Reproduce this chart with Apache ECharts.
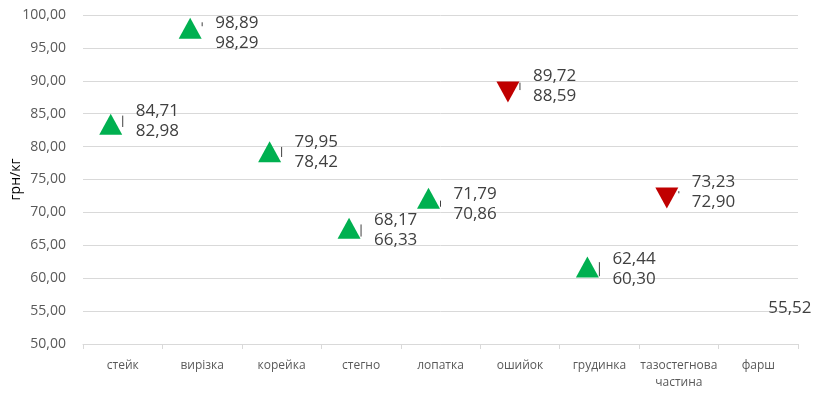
<!DOCTYPE html>
<html>
<head>
<meta charset="utf-8">
<script src="https://cdn.jsdelivr.net/npm/echarts@6/dist/echarts.min.js"></script>
<style>
html,body{margin:0;padding:0;background:#fff;}
#chart{width:818px;height:399px;}
</style>
</head>
<body>
<div id="chart"></div>
<script>
// ---- data ----
var categories = ['стейк', 'вирізка', 'корейка', 'стегно', 'лопатка', 'ошийок', 'грудинка', 'тазостегнова частина', 'фарш'];
var prevPrice = [82.98, 98.29, 78.42, 66.33, 70.86, 89.72, 60.30, 73.23, null];
var currPrice = [84.71, 98.89, 79.95, 68.17, 71.79, 88.59, 62.44, 72.90, 55.52];
var markerValue = [83.4, 98.0, 79.2, 67.6, 72.15, 88.3, 61.7, 72.2, null];
var yTicks = { min: 50, max: 100, step: 5 };

// ---- helpers ----
var FONT = 'Open Sans';
function fmt(v) { return v.toFixed(2).replace('.', ','); }

var rangeData = categories.map(function (c, i) {
  var a = prevPrice[i], b = currPrice[i];
  var vals = [a, b].filter(function (v) { return v != null; });
  var hi = Math.max.apply(null, vals), lo = Math.min.apply(null, vals);
  return [i, lo, hi, vals.length];
});

var markerData = [];
categories.forEach(function (c, i) {
  if (markerValue[i] == null || prevPrice[i] == null) return;
  var up = currPrice[i] >= prevPrice[i];
  markerData.push({
    value: [i, markerValue[i]],
    symbolRotate: up ? 0 : 180,
    itemStyle: { color: up ? '#00B050' : '#C00000', opacity: 1 }
  });
});

var chart = echarts.init(document.getElementById('chart'), null, { renderer: 'canvas' });

var option = {
  animation: false,
  backgroundColor: '#ffffff',
  textStyle: { fontFamily: FONT },
  grid: { left: 83, right: 20, top: 15, bottom: 55, containLabel: false, outerBoundsMode: 'none' },
  xAxis: {
    type: 'category',
    data: categories,
    boundaryGap: true,
    axisLine: { show: true, lineStyle: { color: '#d9d9d9', width: 1 } },
    axisTick: { show: true, length: 5, lineStyle: { color: '#d9d9d9' } },
    axisLabel: {
      color: '#595959', fontSize: 12, fontFamily: FONT, margin: 13,
      interval: 0, lineHeight: 17,
      formatter: function (v) { return v.replace(' ', '\n'); }
    },
    splitLine: { show: false }
  },
  yAxis: {
    type: 'value',
    min: yTicks.min, max: yTicks.max, interval: yTicks.step,
    name: 'грн/кг',
    nameLocation: 'middle',
    nameGap: 60,
    nameRotate: 90,
    nameMoveOverlap: false,
    nameTextStyle: { color: '#000000', fontSize: 14, fontFamily: FONT },
    axisLine: { show: false },
    axisTick: { show: false },
    axisLabel: { color: '#595959', fontSize: 14, fontFamily: FONT, margin: 17, formatter: fmt },
    splitLine: { lineStyle: { color: '#d9d9d9', width: 1 } }
  },
  series: [
    {
      type: 'custom',
      name: 'range',
      data: rangeData,
      z: 3,
      clip: false,
      renderItem: function (params, api) {
        var i = api.value(0), lo = api.value(1), hi = api.value(2), n = api.value(3);
        var pLo = api.coord([i, lo]);
        var pHi = api.coord([i, hi]);
        var cs = params.coordSys;
        var x = pLo[0];
        var tx = x + 13;
        var style = { fill: '#404040', fontSize: 17, fontFamily: FONT, verticalAlign: 'middle', align: 'left' };
        var children = [];
        if (n < 2) {
          children.push({ type: 'text', x: x + 10, y: pLo[1], style: Object.assign({ text: fmt(lo) }, style) });
          return { type: 'group', children: children };
        }
        children.push({
          type: 'line',
          shape: { x1: x, y1: pLo[1], x2: x, y2: pHi[1] },
          style: { stroke: '#404040', lineWidth: 1 }
        });
        var mid = (pLo[1] + pHi[1]) / 2;
        var gap = Math.max(pLo[1] - pHi[1], 20);
        var yHi = mid - gap / 2, yLo = mid + gap / 2;
        var minTop = cs.y + 8;
        if (yHi < minTop) { yLo += minTop - yHi; yHi = minTop; }
        children.push({ type: 'text', x: tx, y: yHi, style: Object.assign({ text: fmt(hi) }, style) });
        children.push({ type: 'text', x: tx, y: yLo, style: Object.assign({ text: fmt(lo) }, style) });
        return { type: 'group', children: children };
      }
    },
    {
      type: 'scatter',
      name: 'marker',
      data: markerData,
      symbol: 'triangle',
      symbolSize: [23, 21],
      symbolOffset: [-12, 0],
      z: 4,
      itemStyle: { opacity: 1 },
      emphasis: { disabled: true },
      label: { show: false }
    }
  ]
};
chart.setOption(option);
</script>
</body>
</html>
